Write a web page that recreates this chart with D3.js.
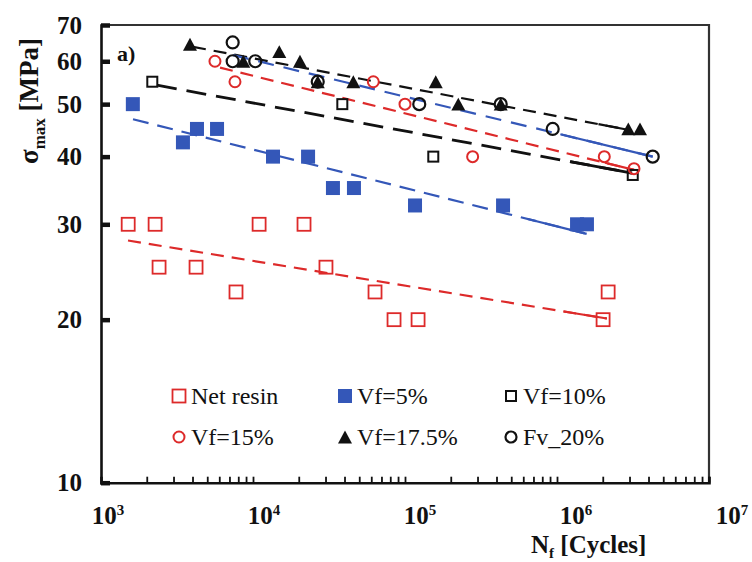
<!DOCTYPE html>
<html>
<head>
<meta charset="utf-8">
<script src="https://cdn.jsdelivr.net/npm/d3@7"></script>
<style>
  html, body { margin: 0; padding: 0; background: #fff; }
  svg { display: block; }
  text { font-family: "Liberation Serif", "Times New Roman", serif; fill: #111; }
</style>
</head>
<body>
<svg id="chart" width="752" height="562"></svg>
<script>
// ---- data: fatigue life (cycles) vs maximum stress (MPa) ----
const netResinCycles = [1510, 2270, 2410, 4220, 7730, 10970, 21660, 30200, 63500, 84700, 121900, 2010000, 2170000];
const netResinStress = [30, 30, 25, 25, 22.5, 30, 30, 25, 22.5, 20, 20, 20, 22.5];

const vf5Cycles = [1620, 3460, 4280, 5800, 13540, 23030, 33570, 46150, 116400, 441700, 1355000, 1574000];
const vf5Stress = [50, 42.5, 45, 45, 40, 40, 35, 35, 32.5, 32.5, 30, 30];

const vf10Cycles = [2175, 38690, 153500, 3150000];
const vf10Stress = [55, 50, 40, 37];

const vf15Cycles = [5620, 7610, 61880, 100000, 278600, 2047000, 3210000];
const vf15Stress = [60, 55, 55, 50, 40, 40, 38];

const vf175Cycles = [3850, 8630, 14890, 20370, 26660, 45710, 159300, 224200, 426200, 2945000, 3516000];
const vf175Stress = [64.5, 60, 62.5, 60, 55, 55, 55, 50, 50, 45, 45];

const fv20Cycles = [7350, 7350, 10350, 26660, 124100, 426200, 936800, 4262000];
const fv20Stress = [65, 60, 60, 55, 50, 50, 45, 40];

// power-law trend lines, given by their end points [cycles, stress]
const netResinFit = [[1506, 28.0], [2130000, 20.1]];
const vf5Fit = [[1624, 46.9], [1567000, 28.8]];
const vf10Fit = [[2335, 54.2], [3113000, 37.3]];
const vf15Fit = [[6070, 58.4], [3210000, 37.8]];
const vf175Fit = [[4030, 63.8], [2976000, 44.8]];
const fv20Fit = [[7380, 61.6], [4262000, 40.0]];

const seriesNames = ["Net resin", "Vf=5%", "Vf=10%", "Vf=15%", "Vf=17.5%", "Fv_20%"];
const xTickExponents = [3, 4, 5, 6, 7];
const yTickValues = [10, 20, 30, 40, 50, 60, 70];

// ---- styling ----
const RED = "#dd2a2a", BLUE = "#3457b8", BLACK = "#111";
const series = [
  { name: seriesNames[0], n: netResinCycles, s: netResinStress, fit: netResinFit,
    shape: "square", size: 13, fill: "none", stroke: RED, sw: 1.8,
    line: RED, lw: 2.2, dash: "13,8", solidTail: 0.09 },
  { name: seriesNames[1], n: vf5Cycles, s: vf5Stress, fit: vf5Fit,
    shape: "square", size: 14, fill: BLUE, stroke: BLUE, sw: 0,
    line: BLUE, lw: 2.2, dash: "16,9", solidTail: 0.13 },
  { name: seriesNames[2], n: vf10Cycles, s: vf10Stress, fit: vf10Fit,
    shape: "square", size: 10, fill: "none", stroke: BLACK, sw: 2,
    line: BLACK, lw: 2.8, dash: "20,10", solidTail: 0.13 },
  { name: seriesNames[3], n: vf15Cycles, s: vf15Stress, fit: vf15Fit,
    shape: "circle", size: 11, fill: "none", stroke: RED, sw: 2,
    line: RED, lw: 2.2, dash: "13,8", solidTail: 0.07 },
  { name: seriesNames[4], n: vf175Cycles, s: vf175Stress, fit: vf175Fit,
    shape: "triangle", size: 14, fill: BLACK, stroke: BLACK, sw: 0,
    line: BLACK, lw: 2.2, dash: "13,8", solidTail: 0.07 },
  { name: seriesNames[5], n: fv20Cycles, s: fv20Stress, fit: fv20Fit,
    shape: "circle", size: 12, fill: "none", stroke: BLACK, sw: 2.2,
    line: BLUE, lw: 2.2, dash: "16,10", solidTail: 0.22 }
];

// ---- layout ----
const plot = { left: 101, right: 709, top: 25, bottom: 482.7 };
const svg = d3.select("#chart");

const x = d3.scaleLog().domain([1e3, 1e7]).range([plot.left, plot.right]);
const y = d3.scaleLog().domain([10, 70]).range([plot.bottom, plot.top]);

// frame (top / right)
svg.append("path")
  .attr("d", `M${plot.left},${plot.top}H${plot.right}V${plot.bottom}`)
  .attr("fill", "none").attr("stroke", "#333").attr("stroke-width", 2.2);

// x axis: minor ticks at 2..10 x each decade, pointing inward
const xMinor = [];
for (let e = 3; e < 7; e++) for (let m = 2; m <= 10; m++) xMinor.push(m * Math.pow(10, e));
const xAxis = d3.axisBottom(x).tickValues(xMinor).tickSize(-6).tickFormat("");
const gx = svg.append("g").attr("transform", `translate(0,${plot.bottom})`).call(xAxis);
gx.select(".domain").attr("stroke", BLACK).attr("stroke-width", 2.6);
gx.selectAll(".tick line").attr("stroke", BLACK).attr("stroke-width", 1.8);

// y axis: thick inward ticks
const yAxis = d3.axisLeft(y).tickValues(yTickValues).tickSize(-9).tickFormat("");
const gy = svg.append("g").attr("transform", `translate(${plot.left},0)`).call(yAxis);
gy.select(".domain").attr("stroke", BLACK).attr("stroke-width", 2.6);
gy.selectAll(".tick line").attr("stroke", BLACK).attr("stroke-width", 4.5);

// y tick labels
svg.append("g").selectAll("text").data(yTickValues).join("text")
  .attr("x", 82).attr("y", d => y(d)).attr("dy", "0.35em")
  .attr("text-anchor", "end")
  .style("font-size", "25px").style("font-weight", "bold")
  .text(d => d);

// x tick labels as powers of ten (sitting slightly right of their ticks)
const xl = svg.append("g").selectAll("text").data(xTickExponents).join("text")
  .attr("x", d => x(Math.pow(10, d)) + 7 + (d - 3) * 4)
  .attr("y", 524)
  .attr("text-anchor", "middle")
  .style("font-size", "25px").style("font-weight", "bold");
xl.append("tspan").text("10");
xl.append("tspan").attr("dy", -9).style("font-size", "15px").text(d => d);

// axis titles
const yt = svg.append("text")
  .attr("transform", "translate(38,101) rotate(-90)")
  .attr("text-anchor", "middle")
  .style("font-size", "27px").style("font-weight", "bold");
yt.append("tspan").text("σ");
yt.append("tspan").attr("dy", 7).style("font-size", "17px").text("max");
yt.append("tspan").attr("dy", -7).text(" [MPa]");

const xt = svg.append("text")
  .attr("x", 531).attr("y", 553)
  .style("font-size", "25px").style("font-weight", "bold");
xt.append("tspan").text("N");
xt.append("tspan").attr("dy", 5).style("font-size", "15px").text("f");
xt.append("tspan").attr("dy", -5).text(" [Cycles]");

// panel tag
svg.append("text").attr("x", 117).attr("y", 61)
  .style("font-size", "22px").style("font-weight", "bold").text("a)");

// ---- markers ----
function marker(g, spec, cx, cy) {
  const h = spec.size / 2;
  let el;
  if (spec.shape === "square") {
    el = g.append("rect").attr("x", cx - h).attr("y", cy - h)
      .attr("width", spec.size).attr("height", spec.size);
  } else if (spec.shape === "circle") {
    el = g.append("circle").attr("cx", cx).attr("cy", cy).attr("r", h);
  } else {
    const th = spec.size * 0.92;
    el = g.append("path").attr("d",
      `M${cx},${cy - th / 2}L${cx + h},${cy + th / 2}L${cx - h},${cy + th / 2}Z`);
  }
  el.attr("fill", spec.fill)
    .attr("stroke", spec.sw ? spec.stroke : "none")
    .attr("stroke-width", spec.sw);
  return el;
}

// ---- trend lines ----
const line = d3.line().x(d => x(d[0])).y(d => y(d[1]));
const gLines = svg.append("g");
series.forEach(sp => {
  gLines.append("path").attr("d", line(sp.fit))
    .attr("fill", "none").attr("stroke", sp.line)
    .attr("stroke-width", sp.lw).attr("stroke-dasharray", sp.dash);
  // the final stretch of each trend line is drawn solid
  const [a, b] = sp.fit;
  const t = 1 - sp.solidTail;
  const mid = [Math.pow(10, Math.log10(a[0]) + t * (Math.log10(b[0]) - Math.log10(a[0]))),
               Math.pow(10, Math.log10(a[1]) + t * (Math.log10(b[1]) - Math.log10(a[1])))];
  gLines.append("path").attr("d", line([mid, b]))
    .attr("fill", "none").attr("stroke", sp.line).attr("stroke-width", sp.lw);
});

// ---- data points ----
const gPts = svg.append("g");
series.forEach(sp => {
  sp.n.forEach((n, i) => marker(gPts, sp, x(n), y(sp.s[i])));
});

// ---- legend ----
const legendCols = [179, 345, 511];
const legendRows = [396, 437];
const gLeg = svg.append("g");
series.forEach((sp, i) => {
  const cx = legendCols[i % 3], cy = legendRows[Math.floor(i / 3)];
  const legSpec = Object.assign({}, sp, { size: sp.shape === "circle" ? 11 : sp.size });
  marker(gLeg, legSpec, cx, cy);
  gLeg.append("text")
    .attr("x", cx + 12).attr("y", cy + 8)
    .style("font-size", "24px")
    .text(sp.name);
});
</script>
</body>
</html>
